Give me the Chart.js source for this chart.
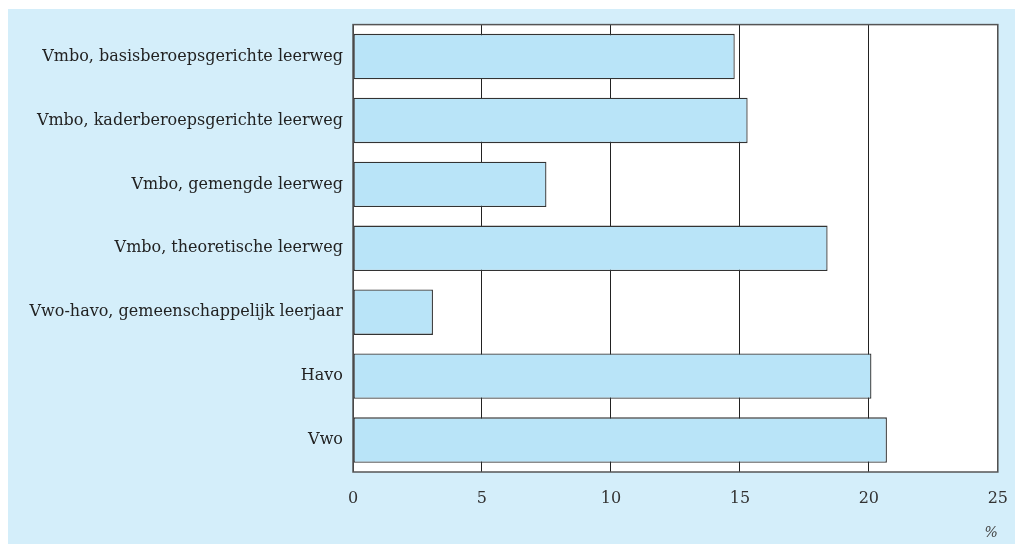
<!DOCTYPE html>
<html>
<head>
<meta charset="utf-8">
<script src="https://cdn.jsdelivr.net/npm/chart.js@4"></script>
<style>
  html, body { margin: 0; padding: 0; background: #ffffff; }
  #wrap { position: absolute; left: 8px; top: 9px; width: 1007px; height: 535px; background: #d4eefa; overflow: hidden; }
  canvas { display: block; margin-top: -4px; }
</style>
</head>
<body>
<div id="wrap"><canvas id="c" width="1017" height="539"></canvas></div>
<script>
const categories = [
  "Vmbo, basisberoepsgerichte leerweg",
  "Vmbo, kaderberoepsgerichte leerweg",
  "Vmbo, gemengde leerweg",
  "Vmbo, theoretische leerweg",
  "Vwo-havo, gemeenschappelijk leerjaar",
  "Havo",
  "Vwo"
];
const values = [14.8, 15.3, 7.5, 18.4, 3.1, 20.1, 20.7];
const xTicks = [0, 5, 10, 15, 20, 25];
const unitLabel = "%";

const FONT = "'DejaVu Serif', 'Liberation Serif', serif";

const plotBg = {
  id: 'plotBg',
  beforeDraw(chart) {
    const {ctx, chartArea: a} = chart;
    ctx.save();
    ctx.fillStyle = '#ffffff';
    ctx.fillRect(a.left, a.top, a.right - a.left, a.bottom - a.top);
    ctx.restore();
  },
  afterDraw(chart) {
    const {ctx, chartArea: a} = chart;
    ctx.save();
    ctx.strokeStyle = '#555555';
    ctx.lineWidth = 1.5;
    ctx.strokeRect(a.left, a.top, a.right - a.left, a.bottom - a.top);
    ctx.restore();
  }
};

new Chart(document.getElementById('c'), {
  type: 'bar',
  data: {
    labels: categories,
    datasets: [{
      data: values,
      backgroundColor: '#b9e4f8',
      borderColor: '#333333',
      borderWidth: 1.3,
      borderSkipped: false,
      barPercentage: 0.71,
      categoryPercentage: 1.0
    }]
  },
  options: {
    indexAxis: 'y',
    responsive: false,
    animation: false,
    layout: { padding: { top: 5, right: 0, left: 0, bottom: 0 } },
    plugins: { legend: { display: false }, tooltip: { enabled: false } },
    scales: {
      x: {
        min: 0, max: 25,
        afterBuildTicks(scale) { scale.ticks = xTicks.map(v => ({ value: v })); },
        afterFit(scale) { scale.height = 72; },
        grid: { color: '#222222', lineWidth: 1, drawTicks: false },
        border: { display: false },
        ticks: {
          padding: 17,
          color: '#333333',
          font: { family: FONT, size: 16 }
        },
        title: {
          display: true,
          text: unitLabel,
          align: 'end',
          color: '#444444',
          padding: { top: 0, bottom: 2 },
          font: { family: FONT, size: 14, style: 'italic' }
        }
      },
      y: {
        afterFit(scale) { scale.width = 345; },
        grid: { display: false, drawTicks: false },
        border: { display: false },
        ticks: {
          padding: 10,
          color: '#222222',
          font: { family: FONT, size: 16 }
        }
      }
    }
  },
  plugins: [plotBg]
});
</script>
</body>
</html>
